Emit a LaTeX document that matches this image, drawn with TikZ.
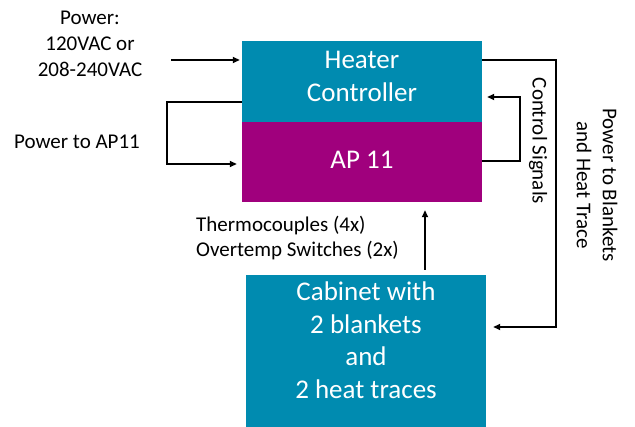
\documentclass[tikz,border=0pt]{standalone}
\usepackage{fontspec}
\setmainfont{Carlito}
\usetikzlibrary{arrows.meta, positioning}
\definecolor{heaterteal}{RGB}{0,139,176}
\definecolor{apmagenta}{RGB}{160,0,125}

\begin{document}
\begin{tikzpicture}[
    x=1pt, y=-1pt,
    block/.style={rectangle, minimum width=240pt, inner sep=0pt},
    blocktext/.style={inner sep=0pt, text=white, font=\fontsize{27}{32.5}\selectfont, align=center},
    label/.style={font=\fontsize{21}{26}\selectfont, align=center, inner sep=0pt},
    link/.style={-{Triangle[length=7pt, width=6pt]}, line width=1.6pt}
]
    \useasboundingbox (0,0) rectangle (635,427);

    % Blocks
    \node[block, fill=heaterteal, minimum height=81pt] (heater) at (362,81.5) {};
    \node[block, fill=apmagenta, minimum height=80pt] (ap) at (362,162) {};
    \node[block, fill=heaterteal, minimum height=152pt] (cabinet) at (366,351) {};
    \node[blocktext] (heatertext) at ([yshift=5pt]heater.center) {Heater\\Controller};
    \node[blocktext] (aptext) at ([yshift=2pt]ap.center) {AP 11};
    \node[blocktext, anchor=north] (cabtext) at (366,282) {Cabinet with\\2 blankets\\and\\2 heat traces};

    % Labels
    \node[label] (power) at (90,44) {Power:\\120VAC or\\208-240VAC};
    \node[label] (apfeed) at (77,142) {Power to AP11};
    \node[label, rotate=-90] (ctrl) at (538,141) {Control Signals};
    \node[label, rotate=-90] (blankets) at (597,185) {Power to Blankets\\and Heat Trace};
    \node[label, align=left, anchor=west, font=\fontsize{21}{25.5}\selectfont] (sensors) at (196,238) {Thermocouples (4x)\\Overtemp Switches (2x)};

    % Connectors
    \coordinate (mains) at (171,60);
    \draw[link, shorten >=2pt] (mains) -- (mains -| heater.west);
    \draw[link, shorten >=5pt] ([yshift=-20.5pt]heater.west) -- ++(-75,0) |- ([yshift=-2pt]ap.west);
    \draw[link, shorten >=5pt] ([yshift=1pt]ap.east) -- ++(38,0) |- ([yshift=-15.5pt]heater.east);
    \draw[link, shorten >=7pt] ([yshift=21.5pt]heater.east) -- ++(74,0) |- ([yshift=24pt]cabinet.east);
    \draw[link, shorten <=5pt, shorten >=8pt] ([xshift=59pt]cabinet.north) -- ([xshift=63pt]ap.south);

\end{tikzpicture}
\end{document}
